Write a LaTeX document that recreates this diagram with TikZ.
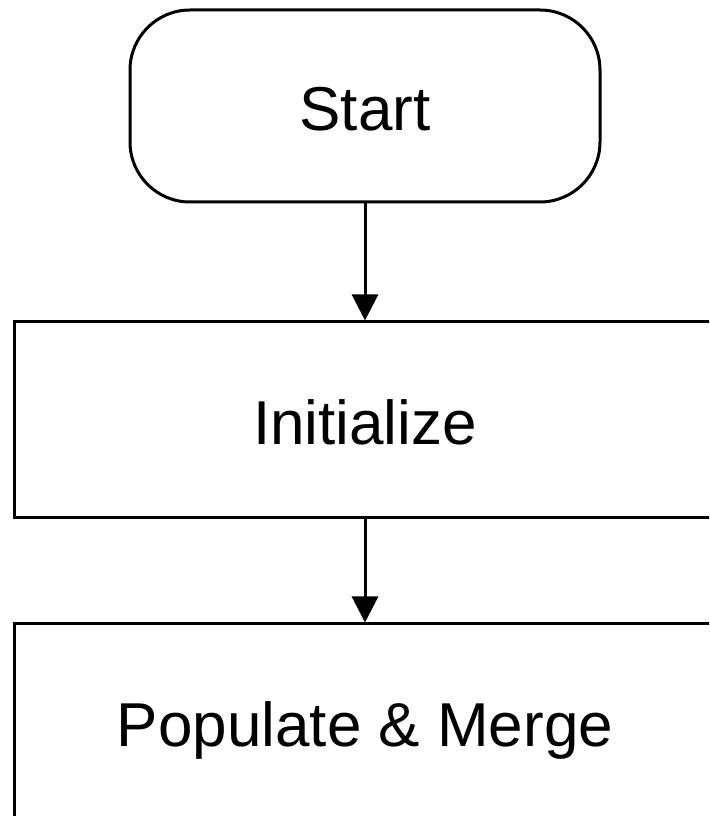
\documentclass[tikz,border=0pt]{standalone}
\usepackage{fontspec}
\setmainfont{Liberation Sans}
\usepackage{tikz}
\usetikzlibrary{arrows.meta}
\usetikzlibrary{positioning}

\tikzset{
    flowtext/.style={text height=26pt, text depth=1pt},
    termbox/.style={draw, flowtext, line width=1.5pt, rounded corners=30pt, minimum width=235pt, minimum height=96pt},
    procbox/.style={draw, flowtext, line width=1.5pt, minimum width=351pt, minimum height=98pt},
    flowarrow/.style={line width=1.5pt, -{Triangle[width=13pt, length=13pt]}}
}

\begin{document}
\begin{tikzpicture}[x=0.5pt, y=0.5pt, font=\fontsize{31}{36}\selectfont]
            \useasboundingbox (0,0) rectangle (709,816);
            \clip (0,0) rectangle (709,816);
            \node[termbox] at (365,710) (start) {Start};
            \node[procbox] at (365,396) (init) {Initialize};
            \node[procbox] at (365,94) (populate) {Populate \& Merge};
            \draw[flowarrow] (start.south) -- (init.north);
            \draw[flowarrow] (init.south) -- (populate.north);
        \end{tikzpicture}
\end{document}
